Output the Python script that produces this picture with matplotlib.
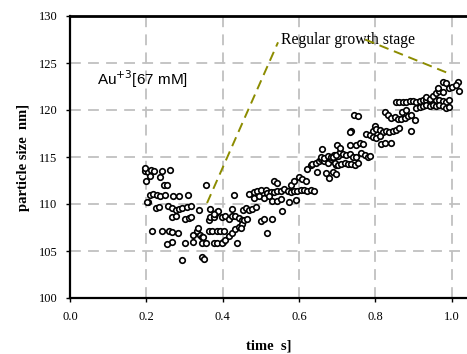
import matplotlib
matplotlib.use("Agg")
import matplotlib.pyplot as plt

# --- DATA ---
time_s = [
    0.196, 0.204, 0.211, 0.198, 0.209, 0.220, 0.235, 0.240, 0.262, 0.247,
    0.255, 0.209, 0.218, 0.227, 0.235, 0.248, 0.204, 0.226, 0.233, 0.257,
    0.268, 0.277, 0.286, 0.294, 0.307, 0.316, 0.270, 0.285, 0.308, 0.356,
    0.337, 0.268, 0.277, 0.302, 0.311, 0.317, 0.215, 0.242, 0.259, 0.266,
    0.284, 0.268, 0.253, 0.302, 0.321, 0.347, 0.357, 0.377, 0.400, 0.293,
    0.346, 0.350, 0.323, 0.332, 0.336, 0.340, 0.345, 0.349, 0.363, 0.367,
    0.376, 0.380, 0.385, 0.389, 0.367, 0.376, 0.398, 0.407, 0.416, 0.424,
    0.433, 0.442, 0.450, 0.363, 0.372, 0.385, 0.394, 0.403, 0.385, 0.398,
    0.407, 0.416, 0.425, 0.433, 0.442, 0.451, 0.429, 0.425, 0.438, 0.201,
    0.196, 0.452, 0.460, 0.469, 0.478, 0.487, 0.456, 0.464, 0.447, 0.500,
    0.508, 0.530, 0.515, 0.556, 0.574, 0.591, 0.469, 0.482, 0.491, 0.500,
    0.513, 0.517, 0.526, 0.535, 0.543, 0.552, 0.561, 0.570, 0.578, 0.587,
    0.596, 0.604, 0.613, 0.622, 0.631, 0.640, 0.482, 0.495, 0.508, 0.521,
    0.530, 0.543, 0.552, 0.535, 0.543, 0.578, 0.587, 0.600, 0.609, 0.618,
    0.622, 0.631, 0.635, 0.644, 0.653, 0.657, 0.666, 0.675, 0.683, 0.692,
    0.697, 0.661, 0.657, 0.666, 0.675, 0.683, 0.692, 0.701, 0.648, 0.670,
    0.679, 0.697, 0.700, 0.689, 0.698, 0.707, 0.715, 0.724, 0.733, 0.741,
    0.750, 0.694, 0.702, 0.711, 0.720, 0.728, 0.737, 0.746, 0.754, 0.689,
    0.698, 0.707, 0.733, 0.750, 0.759, 0.768, 0.763, 0.772, 0.780, 0.785,
    0.737, 0.776, 0.785, 0.794, 0.798, 0.802, 0.811, 0.820, 0.828, 0.837,
    0.846, 0.855, 0.863, 0.794, 0.802, 0.811, 0.816, 0.825, 0.842, 0.894,
    0.825, 0.833, 0.842, 0.851, 0.859, 0.868, 0.877, 0.885, 0.894, 0.903,
    0.855, 0.863, 0.872, 0.881, 0.890, 0.898, 0.907, 0.916, 0.925, 0.933,
    0.942, 0.951, 0.960, 0.968, 0.977, 0.986, 0.994, 0.907, 0.916, 0.925,
    0.933, 0.942, 0.951, 0.960, 0.968, 0.977, 0.986, 0.994, 0.933, 0.942,
    0.951, 0.960, 0.968, 0.977, 0.964, 0.977, 0.993, 1.002, 1.016, 0.733,
    0.986, 1.011, 1.018, 0.871, 0.880, 0.745, 0.755,
]
size_nm = [
    113.5, 113.4, 113.6, 112.5, 113.0, 113.5, 112.9, 113.5, 113.6, 112.0,
    112.0, 111.0, 111.1, 111.0, 110.9, 111.0, 110.2, 109.6, 109.7, 109.8,
    109.6, 109.4, 109.5, 109.6, 109.7, 109.8, 110.8, 110.8, 111.0, 112.0,
    109.4, 108.6, 108.7, 108.4, 108.5, 108.6, 107.1, 107.1, 107.1, 107.0,
    106.9, 106.0, 105.7, 105.9, 106.0, 105.9, 105.9, 105.9, 106.0, 104.0,
    104.4, 104.2, 106.7, 107.1, 107.4, 106.7, 106.5, 106.5, 108.3, 108.6,
    108.6, 108.9, 109.1, 109.3, 109.5, 108.9, 108.6, 108.7, 108.4, 108.7,
    108.7, 108.5, 108.3, 107.1, 107.1, 107.1, 107.1, 107.1, 105.9, 105.9,
    106.2, 106.6, 106.9, 107.3, 107.6, 107.9, 111.0, 109.5, 105.9, 110.2,
    113.8, 109.4, 109.6, 109.4, 109.5, 109.7, 108.3, 108.4, 107.4, 108.2,
    108.4, 108.4, 106.9, 109.3, 110.2, 110.4, 111.1, 111.3, 111.4, 111.5,
    111.5, 111.2, 111.3, 111.3, 111.4, 111.4, 111.6, 111.4, 111.3, 111.4,
    111.4, 111.5, 111.5, 111.4, 111.5, 111.4, 110.6, 110.8, 110.6, 110.8,
    110.3, 110.3, 110.5, 112.4, 112.2, 112.0, 112.4, 112.9, 112.7, 112.5,
    113.7, 114.1, 114.3, 114.4, 114.6, 114.8, 114.6, 114.4, 114.8, 115.0,
    115.2, 115.9, 115.0, 114.9, 115.1, 115.0, 115.2, 115.1, 113.4, 113.3,
    112.8, 114.2, 116.3, 115.0, 115.2, 115.5, 115.3, 115.2, 115.3, 115.0,
    115.0, 114.4, 114.2, 114.3, 114.4, 114.3, 114.3, 114.2, 114.4, 113.4,
    113.2, 116.0, 116.3, 116.3, 116.5, 116.4, 115.4, 115.2, 115.0, 115.1,
    117.8, 117.5, 117.3, 117.8, 118.3, 118.0, 117.9, 117.7, 117.8, 117.7,
    117.8, 117.9, 118.1, 117.1, 117.0, 117.2, 116.4, 116.5, 116.5, 117.8,
    119.8, 119.5, 119.2, 119.3, 119.0, 119.0, 119.1, 119.4, 119.5, 118.9,
    120.8, 120.8, 120.8, 120.9, 121.0, 121.0, 120.9, 121.0, 121.1, 121.1,
    121.0, 120.9, 121.1, 121.1, 121.0, 120.9, 121.1, 120.2, 120.3, 120.4,
    120.5, 120.4, 120.5, 120.4, 120.5, 120.4, 120.2, 120.3, 121.4, 121.2,
    121.5, 121.8, 122.0, 121.9, 122.3, 123.0, 122.3, 122.5, 123.0, 117.7,
    122.9, 122.7, 122.0, 119.8, 120.0, 119.5, 119.4,
]

# guide lines for the annotation
guide1_x = [0.359, 0.545]
guide1_y = [110.1, 127.2]
guide2_x = [0.773, 0.998]
guide2_y = [127.5, 123.8]

xticks = [0.0, 0.2, 0.4, 0.6, 0.8, 1.0]
yticks = [100, 105, 110, 115, 120, 125, 130]

# --- PLOT ---
fig = plt.figure(figsize=(4.67, 3.54), dpi=100)
ax = fig.add_axes([70 / 467, 56 / 354, 397 / 467, 282 / 354])

ax.grid(True, color="#c0c0c0", linestyle=(0, (6, 4)), linewidth=1.3)
ax.set_axisbelow(True)

ax.plot(time_s, size_nm, "o", mfc="white", mec="black", mew=1.2, ms=4,
        linestyle="none", zorder=3)

ax.plot(guide1_x, guide1_y, color="#8c8c00", linestyle=(0, (5, 3)), lw=1.4, zorder=4)
ax.plot(guide2_x, guide2_y, color="#8c8c00", linestyle=(0, (5, 3)), lw=1.4, zorder=4)

ax.text(0.553, 127.5, "Regular growth stage", family="Liberation Serif",
        fontsize=11.3, va="center", ha="left")
ax.text(0.072, 123.3, r"Au$^{+3}$[67 mM]", family="Liberation Sans",
        fontsize=11, va="center", ha="left")

ax.set_xlim(0.0, 397 / 381.7)
ax.set_ylim(100, 130)
ax.set_xticks(xticks)
ax.set_yticks(yticks)
ax.set_xticklabels([f"{t:.1f}" for t in xticks], family="Liberation Serif", fontsize=9)
ax.set_yticklabels([str(t) for t in yticks], family="Liberation Serif", fontsize=9)
ax.tick_params(direction="out", length=3, width=1, pad=6)

for side in ["left", "bottom"]:
    ax.spines[side].set_linewidth(1.6)
ax.spines["top"].set_linewidth(2.0)
ax.spines["right"].set_visible(False)

ax.set_xlabel("time  s]", family="Liberation Serif", fontweight="bold",
              fontsize=10.5, labelpad=12)
ax.set_ylabel("particle size  nm]", family="Liberation Serif", fontweight="bold",
              fontsize=10.5, labelpad=6)

fig.savefig("out.png", dpi=100)
